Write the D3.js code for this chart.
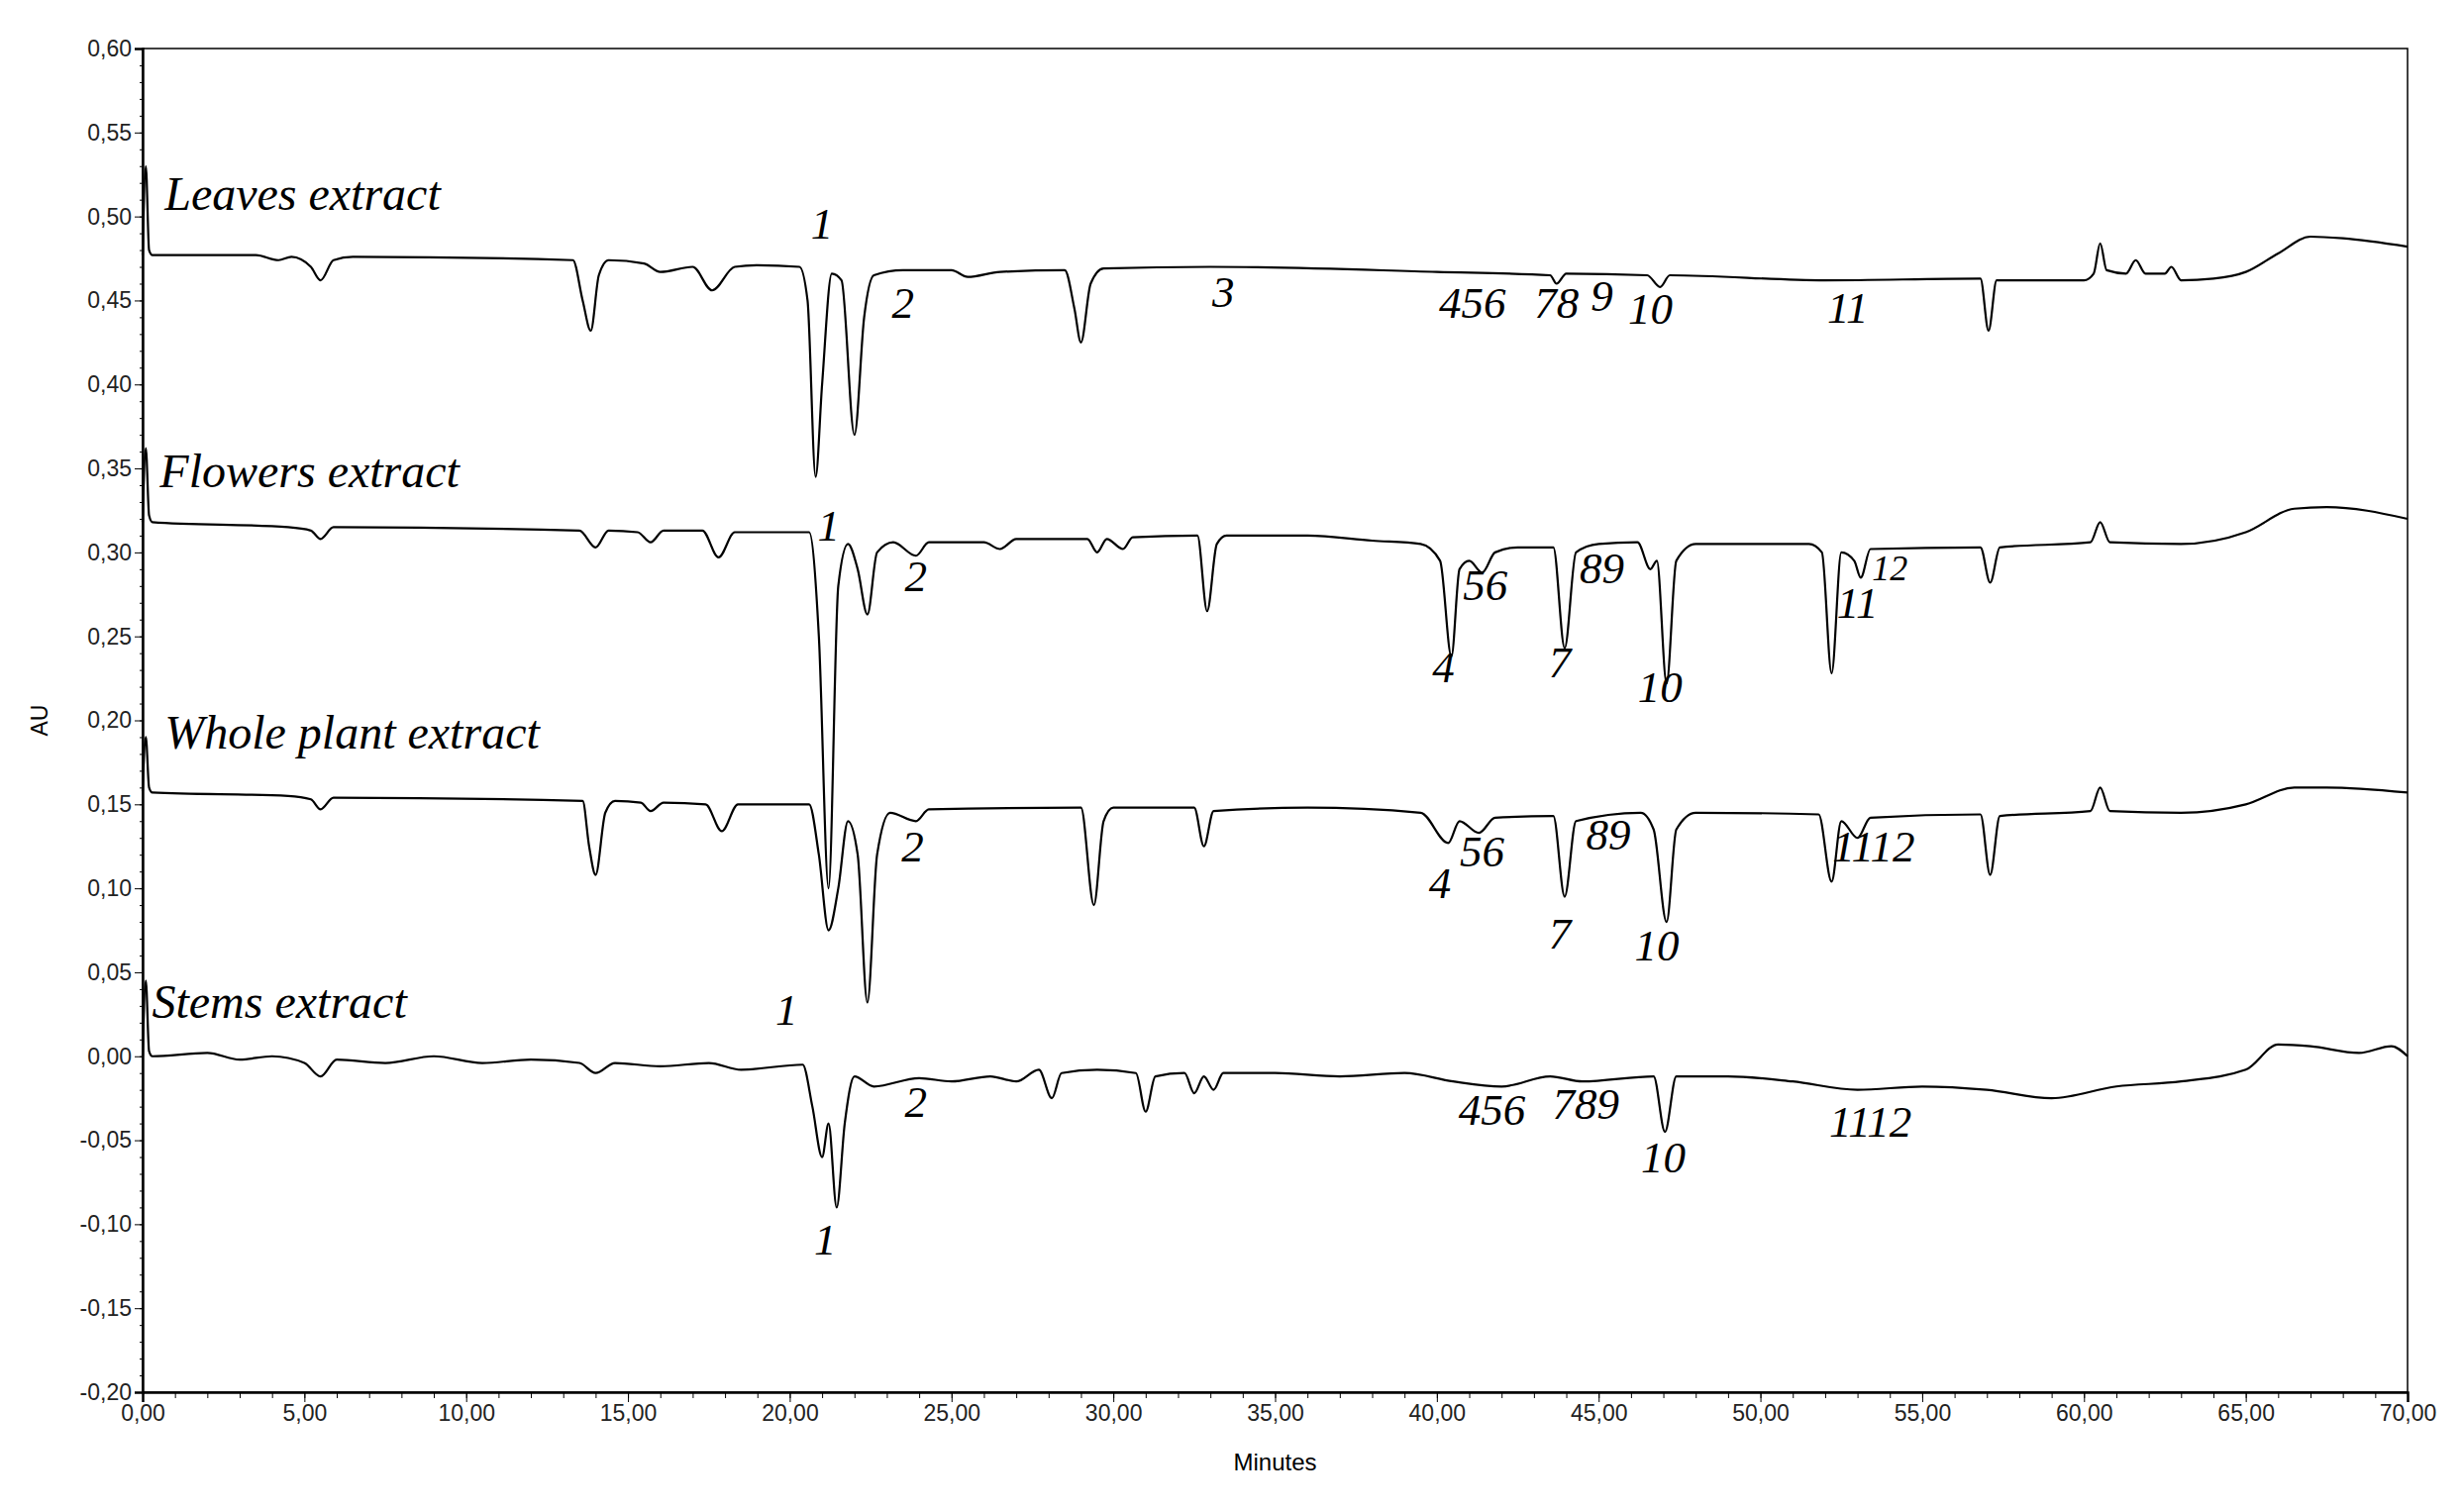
<!DOCTYPE html>
<html><head><meta charset="utf-8">
<script src="https://cdn.jsdelivr.net/npm/d3@7/dist/d3.min.js"></script>
<style>body{margin:0;background:#fff}</style></head>
<body><svg id="c" width="2488" height="1525"></svg>
<script>
const xTicks=[0,5,10,15,20,25,30,35,40,45,50,55,60,65,70];
const yTicks=[-0.20,-0.15,-0.10,-0.05,0,0.05,0.10,0.15,0.20,0.25,0.30,0.35,0.40,0.45,0.50,0.55,0.60];
const leaves=[[0,0.477],[0.1,0.53],[0.2,0.48],[0.3,0.477],[3.5,0.477],[4.2,0.474],[4.6,0.476],[5.2,0.470],[5.5,0.462],[5.9,0.474],[6.5,0.476],[13.3,0.474],[13.6,0.45],[13.85,0.432],[14.1,0.465],[14.4,0.474],[15.5,0.472],[16.0,0.467],[17.0,0.470],[17.6,0.456],[18.3,0.470],[19,0.471],[20.3,0.470],[20.55,0.45],[20.8,0.345],[21.0,0.40],[21.3,0.466],[21.6,0.462],[22.0,0.37],[22.3,0.44],[22.6,0.465],[23.5,0.468],[25,0.468],[25.5,0.464],[26.5,0.467],[28.5,0.468],[28.8,0.445],[29.0,0.425],[29.3,0.460],[29.7,0.469],[33,0.470],[40,0.467],[43.5,0.465],[43.7,0.460],[44,0.466],[46.5,0.465],[46.9,0.458],[47.2,0.465],[52,0.462],[56.8,0.463],[57.05,0.432],[57.3,0.462],[60,0.462],[60.3,0.466],[60.5,0.484],[60.7,0.468],[61.3,0.466],[61.6,0.474],[61.9,0.466],[62.5,0.466],[62.7,0.47],[63,0.462],[64,0.463],[65,0.467],[66,0.478],[67,0.488],[68,0.487],[70,0.482]];
const flowers=[[0,0.318],[0.1,0.362],[0.2,0.322],[0.3,0.318],[4.5,0.315],[5.2,0.313],[5.5,0.308],[5.9,0.315],[13.5,0.313],[14.0,0.303],[14.4,0.313],[15.3,0.312],[15.7,0.306],[16.1,0.313],[17.3,0.313],[17.8,0.297],[18.3,0.312],[20.6,0.312],[20.9,0.25],[21.2,0.10],[21.5,0.28],[21.8,0.305],[22.1,0.29],[22.4,0.263],[22.7,0.30],[23.2,0.306],[23.9,0.298],[24.3,0.306],[26,0.306],[26.5,0.302],[27,0.308],[29.2,0.308],[29.5,0.300],[29.8,0.308],[30.3,0.302],[30.6,0.309],[32.6,0.310],[32.9,0.265],[33.2,0.305],[33.5,0.310],[36,0.310],[38,0.307],[39.5,0.305],[40.1,0.295],[40.45,0.238],[40.7,0.290],[41.0,0.295],[41.4,0.288],[41.8,0.300],[42.5,0.303],[43.6,0.303],[43.95,0.243],[44.3,0.300],[45,0.305],[46.2,0.306],[46.6,0.29],[46.8,0.295],[47.1,0.222],[47.4,0.295],[48,0.305],[51.5,0.305],[51.9,0.30],[52.2,0.228],[52.5,0.30],[52.9,0.295],[53.1,0.285],[53.4,0.302],[56.8,0.303],[57.1,0.282],[57.4,0.303],[60.2,0.306],[60.5,0.318],[60.8,0.306],[63,0.305],[65,0.312],[66.5,0.326],[67.5,0.327],[70,0.320]];
const whole=[[0,0.158],[0.1,0.19],[0.2,0.160],[0.3,0.157],[4.5,0.155],[5.2,0.153],[5.5,0.147],[5.9,0.154],[13.6,0.152],[13.8,0.125],[14.0,0.108],[14.3,0.145],[14.6,0.152],[15.4,0.151],[15.7,0.146],[16.1,0.151],[17.4,0.150],[17.9,0.134],[18.4,0.150],[20.6,0.150],[20.9,0.12],[21.2,0.075],[21.5,0.10],[21.8,0.14],[22.1,0.12],[22.4,0.032],[22.7,0.12],[23.1,0.145],[23.9,0.140],[24.3,0.147],[29.0,0.148],[29.4,0.090],[29.7,0.140],[30.0,0.148],[32.5,0.148],[32.8,0.125],[33.1,0.146],[36,0.148],[39.5,0.145],[40.35,0.127],[40.7,0.140],[41.3,0.133],[41.8,0.142],[43.6,0.143],[43.95,0.095],[44.3,0.140],[46.3,0.145],[46.7,0.135],[47.1,0.080],[47.4,0.135],[48,0.145],[51.8,0.144],[52.2,0.104],[52.5,0.14],[53.0,0.130],[53.4,0.142],[56.8,0.144],[57.1,0.108],[57.4,0.143],[60.2,0.146],[60.5,0.160],[60.8,0.146],[63,0.145],[65,0.150],[66.5,0.160],[67.5,0.160],[70,0.157]];
const stems=[[0,0.0],[0.1,0.045],[0.2,0.003],[0.3,0.0],[2,0.002],[3,-0.002],[4,0.0],[5,-0.004],[5.5,-0.012],[6,-0.002],[7.5,-0.004],[9,0.0],[10.5,-0.004],[12,-0.002],[13.5,-0.004],[14,-0.010],[14.6,-0.004],[16,-0.006],[17.5,-0.004],[18.5,-0.008],[20.4,-0.005],[20.7,-0.03],[21.0,-0.06],[21.2,-0.04],[21.45,-0.09],[21.7,-0.04],[22.0,-0.012],[22.6,-0.018],[24,-0.013],[25,-0.015],[26.2,-0.012],[27,-0.015],[27.7,-0.008],[28.1,-0.025],[28.4,-0.010],[29.5,-0.008],[30.7,-0.010],[31.0,-0.033],[31.3,-0.012],[32.2,-0.010],[32.5,-0.022],[32.8,-0.012],[33.1,-0.020],[33.4,-0.010],[35,-0.010],[37,-0.012],[39,-0.010],[40.5,-0.015],[42,-0.018],[43.5,-0.012],[44.5,-0.015],[46.7,-0.012],[47.05,-0.045],[47.4,-0.012],[49,-0.012],[51,-0.015],[53,-0.020],[55,-0.018],[57,-0.020],[59,-0.025],[61,-0.018],[63,-0.015],[65,-0.008],[66,0.007],[67,0.006],[68.5,0.002],[69.5,0.006],[70,0.0]];
const series=[leaves,flowers,whole,stems];
const seriesNames=["Leaves extract","Flowers extract","Whole plant extract","Stems extract"];
const namePos=[[0.68,0.504],[0.53,0.339],[0.68,0.183],[0.29,0.023]];
const peakLabels=[
 ["1",21.0,0.493],["2",23.5,0.446],["3",33.4,0.452],["456",41.1,0.446],["78",43.7,0.446],["9",45.1,0.450],["10",46.6,0.442],["11",52.7,0.443],
 ["1",21.2,0.313],["2",23.9,0.283],["56",41.5,0.278],["4",40.2,0.229],["7",43.8,0.232],["89",45.1,0.288],["10",46.9,0.217],["11",53.0,0.267],["12",54.0,0.288],
 ["2",23.8,0.122],["4",40.1,0.100],["56",41.4,0.119],["7",43.8,0.070],["89",45.3,0.129],["10",46.8,0.063],["1112",53.5,0.122],
 ["1",19.9,0.025],["1",21.1,-0.112],["2",23.9,-0.030],["456",41.7,-0.035],["789",44.6,-0.031],["10",47.0,-0.063],["1112",53.4,-0.042]];
const svg=d3.select("#c");
const L=144,R=2431,T=49,B=1406;
const x=d3.scaleLinear().domain([0,70]).range([L,R]);
const y=d3.scaleLinear().domain([-0.2,0.6]).range([B,T]);
const fmt=d=>d.toFixed(2).replace(".",",");
const tickFont="'Liberation Sans Narrow','Liberation Sans',Arial,sans-serif";
svg.append("rect").attr("x",L).attr("y",T).attr("width",R-L).attr("height",B-T).attr("fill","none").attr("stroke","#000").attr("stroke-width",1.5);
const ya=svg.append("g").attr("transform",`translate(${L},0)`).call(d3.axisLeft(y).tickValues(yTicks).tickFormat(fmt).tickSize(8));
const xa=svg.append("g").attr("transform",`translate(0,${B})`).call(d3.axisBottom(x).tickValues(xTicks).tickFormat(fmt).tickSize(10));
[ya,xa].forEach(a=>{a.selectAll("text").attr("font-family",tickFont).attr("font-size",23).attr("fill","#222");a.select(".domain").attr("stroke-width",2.5);});
svg.append("g").attr("transform",`translate(${L},0)`).call(d3.axisLeft(y).tickValues(d3.range(-20,61).map(v=>v/100)).tickFormat("").tickSize(3)).select(".domain").remove();
svg.append("g").attr("transform",`translate(0,${B})`).call(d3.axisBottom(x).tickValues(d3.range(0,71)).tickFormat("").tickSize(6)).select(".domain").remove();
svg.append("text").attr("x",(L+R)/2).attr("y",1485).attr("text-anchor","middle").attr("font-family",tickFont).attr("font-size",24).text("Minutes");
svg.append("text").attr("transform",`translate(48,${y(0.2)}) rotate(-90)`).attr("text-anchor","middle").attr("font-family",tickFont).attr("font-size",23).text("AU");
const line=d3.line().x(d=>x(d[0])).y(d=>y(d[1])).curve(d3.curveMonotoneX);
series.forEach(s=>svg.append("path").attr("d",line(s)).attr("fill","none").attr("stroke","#000").attr("stroke-width",2.2));
const serif="'Liberation Serif','Times New Roman',serif";
seriesNames.forEach((n,i)=>svg.append("text").attr("x",x(namePos[i][0])).attr("y",y(namePos[i][1])).attr("font-family",serif).attr("font-style","italic").attr("font-size",48).text(n));
peakLabels.forEach(p=>svg.append("text").attr("x",x(p[1])).attr("y",y(p[2])).attr("text-anchor","middle").attr("dominant-baseline","middle").attr("font-family",serif).attr("font-style","italic").attr("font-size",p[0]==="12"?36:45).text(p[0]));
</script></body></html>
